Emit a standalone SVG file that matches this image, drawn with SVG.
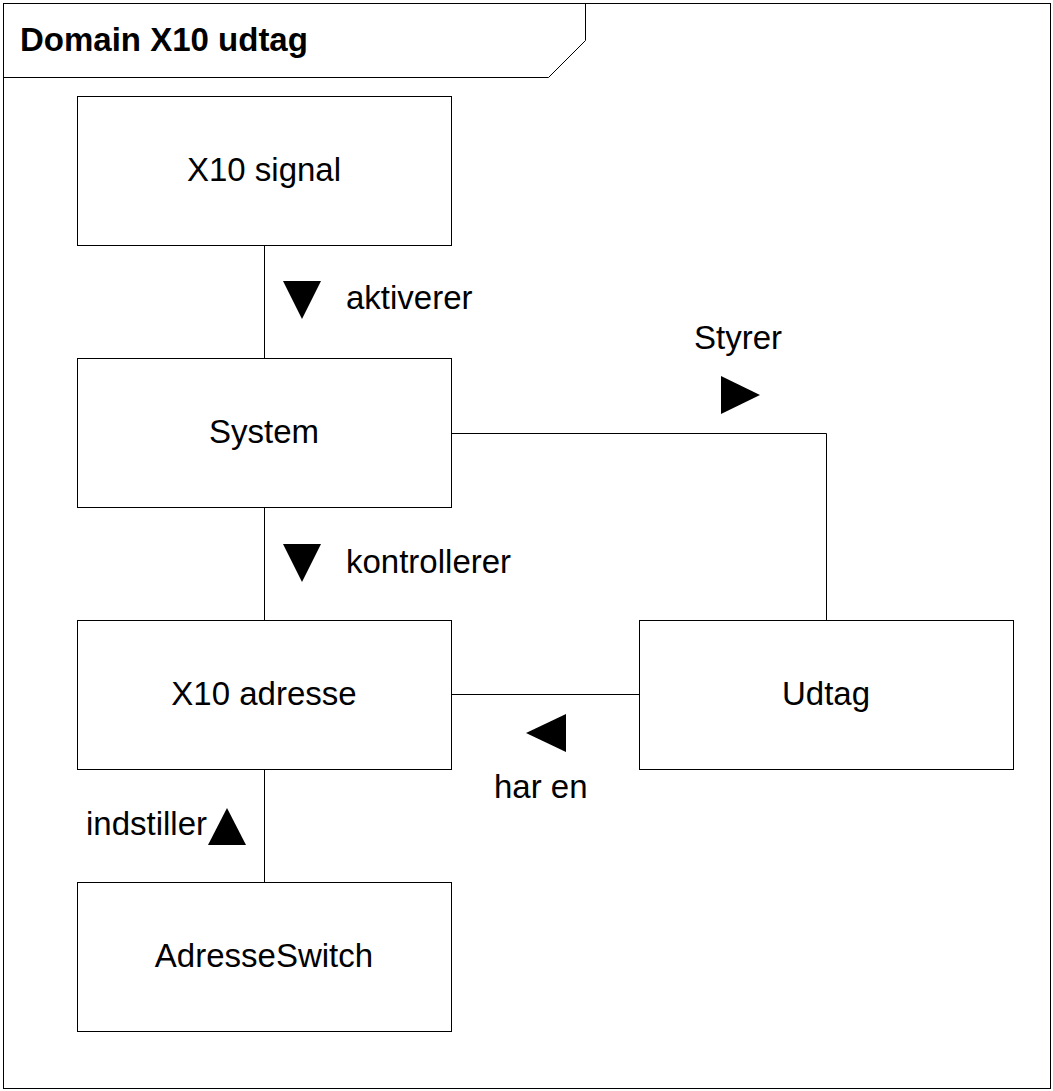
<svg xmlns="http://www.w3.org/2000/svg" width="1053" height="1091" viewBox="0 0 1053 1091">
<style>
.frame{fill:none;stroke:#000;stroke-width:1}
.box{fill:#fff;stroke:#000;stroke-width:1}
.conn{fill:none;stroke:#000;stroke-width:1}
.tri{fill:#000}
text{font-family:"Liberation Sans",Arial,sans-serif;font-size:33px;fill:#000}
.title{font-weight:bold}
.c{text-anchor:middle}
</style>
<rect x="0" y="0" width="1053" height="1091" fill="#fff"/>
<g id="frame">
<rect class="frame" x="3.5" y="3.5" width="1047" height="1085"/>
<polyline class="frame" points="3.5,77.5 548.5,77.5 585.5,40.5 585.5,3.5"/>
<text class="title" x="20" y="51">Domain X10 udtag</text>
</g>
<g id="connectors">
<line class="conn" x1="264.5" y1="245" x2="264.5" y2="358"/>
<line class="conn" x1="264.5" y1="507" x2="264.5" y2="620"/>
<line class="conn" x1="264.5" y1="769" x2="264.5" y2="882"/>
<polyline class="conn" points="451,433.5 826.5,433.5 826.5,620"/>
<line class="conn" x1="451" y1="694.5" x2="639" y2="694.5"/>
<polygon class="tri" points="283,281 321,281 302,319"/>
<text x="346" y="309">aktiverer</text>
<polygon class="tri" points="283,544 321,544 302,582"/>
<text x="346" y="573">kontrollerer</text>
<polygon class="tri" points="721,376 721,414 760,395"/>
<text x="694" y="349">Styrer</text>
<polygon class="tri" points="566,714 566,752 526,733"/>
<text x="494" y="798">har en</text>
<polygon class="tri" points="208,845 246,845 227,808"/>
<text x="86" y="835">indstiller</text>
</g>
<g id="x10signal">
<rect class="box" x="77.5" y="96.5" width="374" height="149"/>
<text class="c" x="264" y="181">X10 signal</text>
</g>
<g id="system">
<rect class="box" x="77.5" y="358.5" width="374" height="149"/>
<text class="c" x="264" y="443">System</text>
</g>
<g id="x10adresse">
<rect class="box" x="77.5" y="620.5" width="374" height="149"/>
<text class="c" x="264" y="705">X10 adresse</text>
</g>
<g id="adresseswitch">
<rect class="box" x="77.5" y="882.5" width="374" height="149"/>
<text class="c" x="264" y="967">AdresseSwitch</text>
</g>
<g id="udtag">
<rect class="box" x="639.5" y="620.5" width="374" height="149"/>
<text class="c" x="826" y="705">Udtag</text>
</g>
</svg>
